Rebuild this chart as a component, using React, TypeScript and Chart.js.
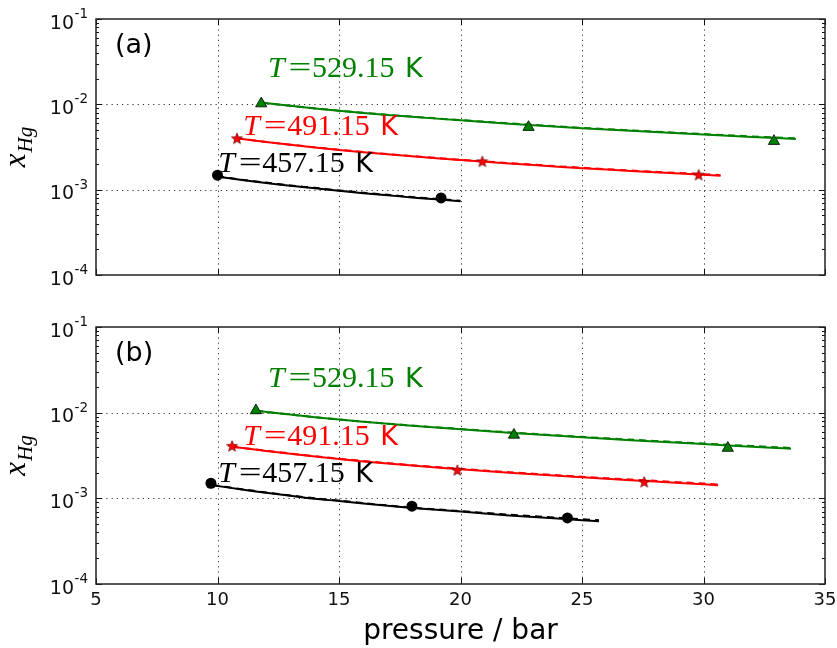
import React, { useEffect, useRef } from "react";
import { Chart, registerables } from "chart.js";
Chart.register(...registerables);

// ---------- axes / ticks ----------
const X_MIN = 5;
const X_MAX = 35;
const X_TICKS = [5, 10, 15, 20, 25, 30, 35];
const Y_MIN = 1e-4;
const Y_MAX = 1e-1;
const Y_TICKS = [1e-4, 1e-3, 1e-2, 1e-1];
const Y_TICK_BASE = ["10", "10", "10", "10"];
const Y_TICK_EXP = ["-4", "-3", "-2", "-1"];
const X_TITLE = "pressure / bar";
const PANEL_TAGS = ["(a)", "(b)"];

// ---------- series labels ----------
const TEMPS = ["457.15", "491.15", "529.15"];
const COLORS = ["#000000", "#ff0000", "#008000"];

// ---------- panel (a) : x_Hg in units of 1e-3 ----------
const A_BLACK_P = [10, 11, 12, 13, 14, 15, 16, 17, 18, 19, 20];
const A_BLACK_SOLID = [1.42, 1.3, 1.2, 1.11, 1.04, 0.97, 0.91, 0.86, 0.81, 0.77, 0.73];
const A_BLACK_DASH = [1.43, 1.31, 1.21, 1.12, 1.05, 0.98, 0.92, 0.87, 0.82, 0.78, 0.74];
const A_RED_P = [10.8, 12, 14, 16, 18, 20, 22, 24, 26, 28, 30, 30.7];
const A_RED_SOLID = [4.0, 3.62, 3.12, 2.75, 2.46, 2.22, 2.03, 1.86, 1.72, 1.6, 1.5, 1.46];
const A_RED_DASH = [4.0, 3.63, 3.14, 2.77, 2.48, 2.24, 2.05, 1.88, 1.74, 1.62, 1.52, 1.48];
const A_GREEN_P = [11.8, 13, 15, 17, 19, 21, 23, 25, 27, 29, 31, 33, 33.8];
const A_GREEN_SOLID = [10.5, 9.6, 8.4, 7.5, 6.8, 6.2, 5.7, 5.25, 4.9, 4.57, 4.28, 4.02, 3.93];
const A_GREEN_DASH = [10.5, 9.62, 8.43, 7.54, 6.85, 6.26, 5.76, 5.31, 4.96, 4.63, 4.34, 4.08, 3.99];
const A_BLACK_EXP_P = [10.0, 19.2];
const A_BLACK_EXP = [1.48, 0.8];
const A_RED_EXP_P = [10.8, 20.9, 29.8];
const A_RED_EXP = [4.0, 2.15, 1.5];
const A_GREEN_EXP_P = [11.8, 22.8, 32.9];
const A_GREEN_EXP = [10.2, 5.4, 3.7];
const A_LABEL_P = [10.03, 11.06, 12.08];
const A_LABEL_X = [1.62, 4.37, 21.1];

// ---------- panel (b) ----------
const B_BLACK_P = [9.8, 11, 12, 13, 14, 15, 16, 18, 20, 22, 24, 25.7];
const B_BLACK_SOLID = [1.42, 1.27, 1.16, 1.07, 0.99, 0.93, 0.87, 0.77, 0.7, 0.63, 0.58, 0.54];
const B_BLACK_DASH = [1.43, 1.28, 1.17, 1.08, 1.0, 0.94, 0.88, 0.78, 0.71, 0.645, 0.595, 0.555];
const B_RED_P = [10.6, 12, 14, 16, 18, 20, 22, 24, 26, 28, 30, 30.6];
const B_RED_SOLID = [4.0, 3.58, 3.08, 2.7, 2.41, 2.18, 1.99, 1.83, 1.69, 1.57, 1.46, 1.42];
const B_RED_DASH = [4.0, 3.6, 3.1, 2.73, 2.44, 2.21, 2.02, 1.86, 1.72, 1.6, 1.49, 1.45];
const B_GREEN_P = [11.6, 13, 15, 17, 19, 21, 23, 25, 27, 29, 31, 33, 33.6];
const B_GREEN_SOLID = [10.5, 9.5, 8.3, 7.4, 6.7, 6.1, 5.6, 5.15, 4.78, 4.45, 4.15, 3.88, 3.8];
const B_GREEN_DASH = [10.5, 9.52, 8.33, 7.44, 6.75, 6.16, 5.66, 5.22, 4.85, 4.52, 4.22, 3.95, 3.87];
const B_BLACK_EXP_P = [9.73, 18.0, 24.4];
const B_BLACK_EXP = [1.5, 0.81, 0.59];
const B_RED_EXP_P = [10.6, 19.87, 27.56];
const B_RED_EXP = [4.1, 2.14, 1.56];
const B_GREEN_EXP_P = [11.58, 22.2, 31.0];
const B_GREEN_EXP = [10.6, 5.5, 3.86];
const B_LABEL_P = [10.03, 11.06, 12.08];
const B_LABEL_X = [1.55, 4.2, 19.7];

const UNIT = 1e-3;

type Series = {
  lineP: number[][];
  solid: number[][];
  dash: number[][];
  expP: number[][];
  exp: number[][];
  labelP: number[];
  labelX: number[];
};

const PANELS: Series[] = [
  {
    lineP: [A_BLACK_P, A_RED_P, A_GREEN_P],
    solid: [A_BLACK_SOLID, A_RED_SOLID, A_GREEN_SOLID],
    dash: [A_BLACK_DASH, A_RED_DASH, A_GREEN_DASH],
    expP: [A_BLACK_EXP_P, A_RED_EXP_P, A_GREEN_EXP_P],
    exp: [A_BLACK_EXP, A_RED_EXP, A_GREEN_EXP],
    labelP: A_LABEL_P,
    labelX: A_LABEL_X,
  },
  {
    lineP: [B_BLACK_P, B_RED_P, B_GREEN_P],
    solid: [B_BLACK_SOLID, B_RED_SOLID, B_GREEN_SOLID],
    dash: [B_BLACK_DASH, B_RED_DASH, B_GREEN_DASH],
    expP: [B_BLACK_EXP_P, B_RED_EXP_P, B_GREEN_EXP_P],
    exp: [B_BLACK_EXP, B_RED_EXP, B_GREEN_EXP],
    labelP: B_LABEL_P,
    labelX: B_LABEL_X,
  },
];

function makeStar(): HTMLCanvasElement {
  const c = document.createElement("canvas");
  c.width = 14;
  c.height = 14;
  const g = c.getContext("2d")!;
  g.beginPath();
  for (let i = 0; i < 10; i++) {
    const r = i % 2 === 0 ? 5.8 : 2.5;
    const a = -Math.PI / 2 + (i * Math.PI) / 5;
    const px = 7 + r * Math.cos(a);
    const py = 7.6 + r * Math.sin(a);
    if (i === 0) g.moveTo(px, py);
    else g.lineTo(px, py);
  }
  g.closePath();
  g.fillStyle = "#ff0000";
  g.fill();
  g.lineWidth = 0.7;
  g.strokeStyle = "#600000";
  g.stroke();
  return c;
}

function toPts(ps: number[], xs: number[]) {
  return ps.map((p, i) => ({ x: p, y: xs[i] * UNIT }));
}

function drawTLabel(ctx: CanvasRenderingContext2D, x: number, y: number, temp: string, color: string) {
  ctx.save();
  ctx.fillStyle = color;
  ctx.textBaseline = "alphabetic";
  ctx.textAlign = "left";
  ctx.font = 'italic 30px "Liberation Serif"';
  ctx.fillText("T", x, y);
  ctx.font = '30px "Liberation Serif"';
  const eqW = ctx.measureText("=").width;
  ctx.save();
  ctx.translate(x + 32, y);
  ctx.scale(1.35, 1);
  ctx.fillText("=", -eqW / 2, 0);
  ctx.restore();
  ctx.fillText(temp, x + 44, y);
  ctx.font = '27px "DejaVu Sans"';
  ctx.fillText("K", x + 137, y);
  ctx.restore();
}

function makeDecor(panelIndex: number, isBottom: boolean) {
  return {
    id: "decor" + panelIndex,
    beforeDatasetsDraw(chart: any) {
      const ctx: CanvasRenderingContext2D = chart.ctx;
      const { left, right, top, bottom } = chart.chartArea;
      const xs = chart.scales.x;
      const ys = chart.scales.y;
      ctx.save();
      ctx.strokeStyle = "#333";
      ctx.lineWidth = 1;
      ctx.setLineDash([1.2, 4]);
      X_TICKS.forEach((t) => {
        if (t === X_MIN || t === X_MAX) return;
        const px = Math.round(xs.getPixelForValue(t)) + 0.5;
        ctx.beginPath();
        ctx.moveTo(px, top);
        ctx.lineTo(px, bottom);
        ctx.stroke();
      });
      Y_TICKS.forEach((t) => {
        if (t === Y_MIN || t === Y_MAX) return;
        const py = Math.round(ys.getPixelForValue(t)) + 0.5;
        ctx.beginPath();
        ctx.moveTo(left, py);
        ctx.lineTo(right, py);
        ctx.stroke();
      });
      ctx.restore();
    },
    afterDraw(chart: any) {
      const ctx: CanvasRenderingContext2D = chart.ctx;
      const { left, right, top, bottom } = chart.chartArea;
      const xs = chart.scales.x;
      const ys = chart.scales.y;
      ctx.save();
      // ticks
      ctx.strokeStyle = "#111";
      ctx.lineWidth = 1;
      ctx.setLineDash([]);
      X_TICKS.forEach((t) => {
        const px = Math.round(xs.getPixelForValue(t)) + 0.5;
        ctx.beginPath();
        ctx.moveTo(px, bottom);
        ctx.lineTo(px, bottom - 6);
        ctx.moveTo(px, top);
        ctx.lineTo(px, top + 6);
        ctx.stroke();
      });
      for (let d = 0; d < Y_TICKS.length; d++) {
        const base = Y_TICKS[d];
        const py = Math.round(ys.getPixelForValue(base)) + 0.5;
        ctx.beginPath();
        ctx.moveTo(left, py);
        ctx.lineTo(left + 6, py);
        ctx.moveTo(right, py);
        ctx.lineTo(right - 6, py);
        ctx.stroke();
        if (d < Y_TICKS.length - 1) {
          for (let m = 2; m <= 9; m++) {
            const my = Math.round(ys.getPixelForValue(base * m)) + 0.5;
            ctx.beginPath();
            ctx.moveTo(left, my);
            ctx.lineTo(left + 3, my);
            ctx.moveTo(right, my);
            ctx.lineTo(right - 3, my);
            ctx.stroke();
          }
        }
      }
      // frame
      ctx.strokeStyle = "#222";
      ctx.lineWidth = 1.5;
      ctx.strokeRect(left, top, right - left, bottom - top);

      // y tick labels
      ctx.fillStyle = "#111";
      ctx.textAlign = "right";
      ctx.textBaseline = "alphabetic";
      Y_TICKS.forEach((t, i) => {
        const py = ys.getPixelForValue(t);
        ctx.font = '13.5px "DejaVu Sans"';
        const ew = ctx.measureText(Y_TICK_EXP[i]).width;
        ctx.fillText(Y_TICK_EXP[i], left - 8, py - 1);
        ctx.font = '19px "DejaVu Sans"';
        ctx.fillText(Y_TICK_BASE[i], left - 8 - ew - 0.5, py + 9.5);
      });

      // x tick labels + title
      if (isBottom) {
        ctx.textAlign = "center";
        ctx.font = '18px "DejaVu Sans"';
        X_TICKS.forEach((t) => {
          ctx.fillText(String(t), xs.getPixelForValue(t), bottom + 21);
        });
        ctx.font = '28px "DejaVu Sans"';
        ctx.fillStyle = "#000";
        ctx.fillText(X_TITLE, (left + right) / 2, bottom + 55);
      }

      // y title  x_Hg
      ctx.save();
      const cy = (top + bottom) / 2;
      ctx.translate(25, cy);
      ctx.rotate(-Math.PI / 2);
      ctx.fillStyle = "#000";
      ctx.textAlign = "left";
      ctx.font = 'italic 31px "Liberation Serif"';
      const wx = ctx.measureText("x").width;
      ctx.font = 'italic 21px "Liberation Serif"';
      const ws = ctx.measureText("Hg").width;
      const total = wx + ws + 1;
      ctx.font = 'italic 31px "Liberation Serif"';
      ctx.fillText("x", -total / 2, 0);
      ctx.font = 'italic 21px "Liberation Serif"';
      ctx.fillText("Hg", -total / 2 + wx + 1, 7);
      ctx.restore();

      // panel tag
      ctx.fillStyle = "#000";
      ctx.textAlign = "left";
      ctx.font = '27px "DejaVu Sans"';
      ctx.fillText(PANEL_TAGS[panelIndex], left + 19, top + 34);

      // temperature labels
      const P = PANELS[panelIndex];
      for (let s = 0; s < TEMPS.length; s++) {
        const lx = xs.getPixelForValue(P.labelP[s]);
        const ly = ys.getPixelForValue(P.labelX[s] * UNIT);
        drawTLabel(ctx, lx, ly, TEMPS[s], COLORS[s]);
      }
      ctx.restore();
    },
  };
}

function buildConfig(panelIndex: number, star: HTMLCanvasElement, padding: any, isBottom: boolean) {
  const P = PANELS[panelIndex];
  const markerDs: any[] = [];
  const dashDs: any[] = [];
  const solidDs: any[] = [];
  for (let s = 0; s < 3; s++) {
    const color = COLORS[s];
    const ms: any = {
      data: toPts(P.expP[s], P.exp[s]),
      showLine: false,
      pointRadius: s === 0 ? 5.5 : 6.5,
      pointBorderWidth: s === 0 ? 0 : 0.8,
    };
    if (s === 0) {
      ms.pointStyle = "circle";
      ms.pointBackgroundColor = "#000";
      ms.pointBorderColor = "#000";
    } else if (s === 1) {
      ms.pointStyle = star;
    } else {
      ms.pointStyle = "triangle";
      ms.pointBackgroundColor = "#008000";
      ms.pointBorderColor = "#000";
    }
    markerDs.push(ms);
    dashDs.push({
      data: toPts(P.lineP[s], P.dash[s]),
      borderColor: color,
      borderWidth: 2,
      borderDash: [7, 5],
      pointRadius: 0,
      fill: false,
      tension: 0.3,
    });
    solidDs.push({
      data: toPts(P.lineP[s], P.solid[s]),
      borderColor: color,
      borderWidth: 2,
      pointRadius: 0,
      fill: false,
      tension: 0.3,
    });
  }
  return {
    type: "line",
    data: { datasets: [...markerDs, ...dashDs, ...solidDs] },
    options: {
      animation: false,
      responsive: false,
      devicePixelRatio: 1,
      layout: { padding },
      events: [],
      plugins: { legend: { display: false }, tooltip: { enabled: false } },
      scales: {
        x: { type: "linear", min: X_MIN, max: X_MAX, display: false },
        y: { type: "logarithmic", min: Y_MIN, max: Y_MAX, display: false },
      },
    },
    plugins: [makeDecor(panelIndex, isBottom)],
  };
}

export default function App() {
  const topRef = useRef<HTMLCanvasElement>(null);
  const botRef = useRef<HTMLCanvasElement>(null);
  useEffect(() => {
    const star = makeStar();
    const c1 = new Chart(topRef.current!, buildConfig(0, star, { left: 96, right: 12, top: 19, bottom: 25 }, false) as any);
    const c2 = new Chart(botRef.current!, buildConfig(1, star, { left: 96, right: 12, top: 27, bottom: 64 }, true) as any);
    return () => {
      c1.destroy();
      c2.destroy();
    };
  }, []);
  return (
    <div style={{ position: "absolute", left: 0, top: 0, width: 837, height: 648, background: "#fff" }}>
      <canvas ref={topRef} width={837} height={300} style={{ position: "absolute", left: 0, top: 0, width: 837, height: 300 }} />
      <canvas ref={botRef} width={837} height={348} style={{ position: "absolute", left: 0, top: 300, width: 837, height: 348 }} />
    </div>
  );
}
